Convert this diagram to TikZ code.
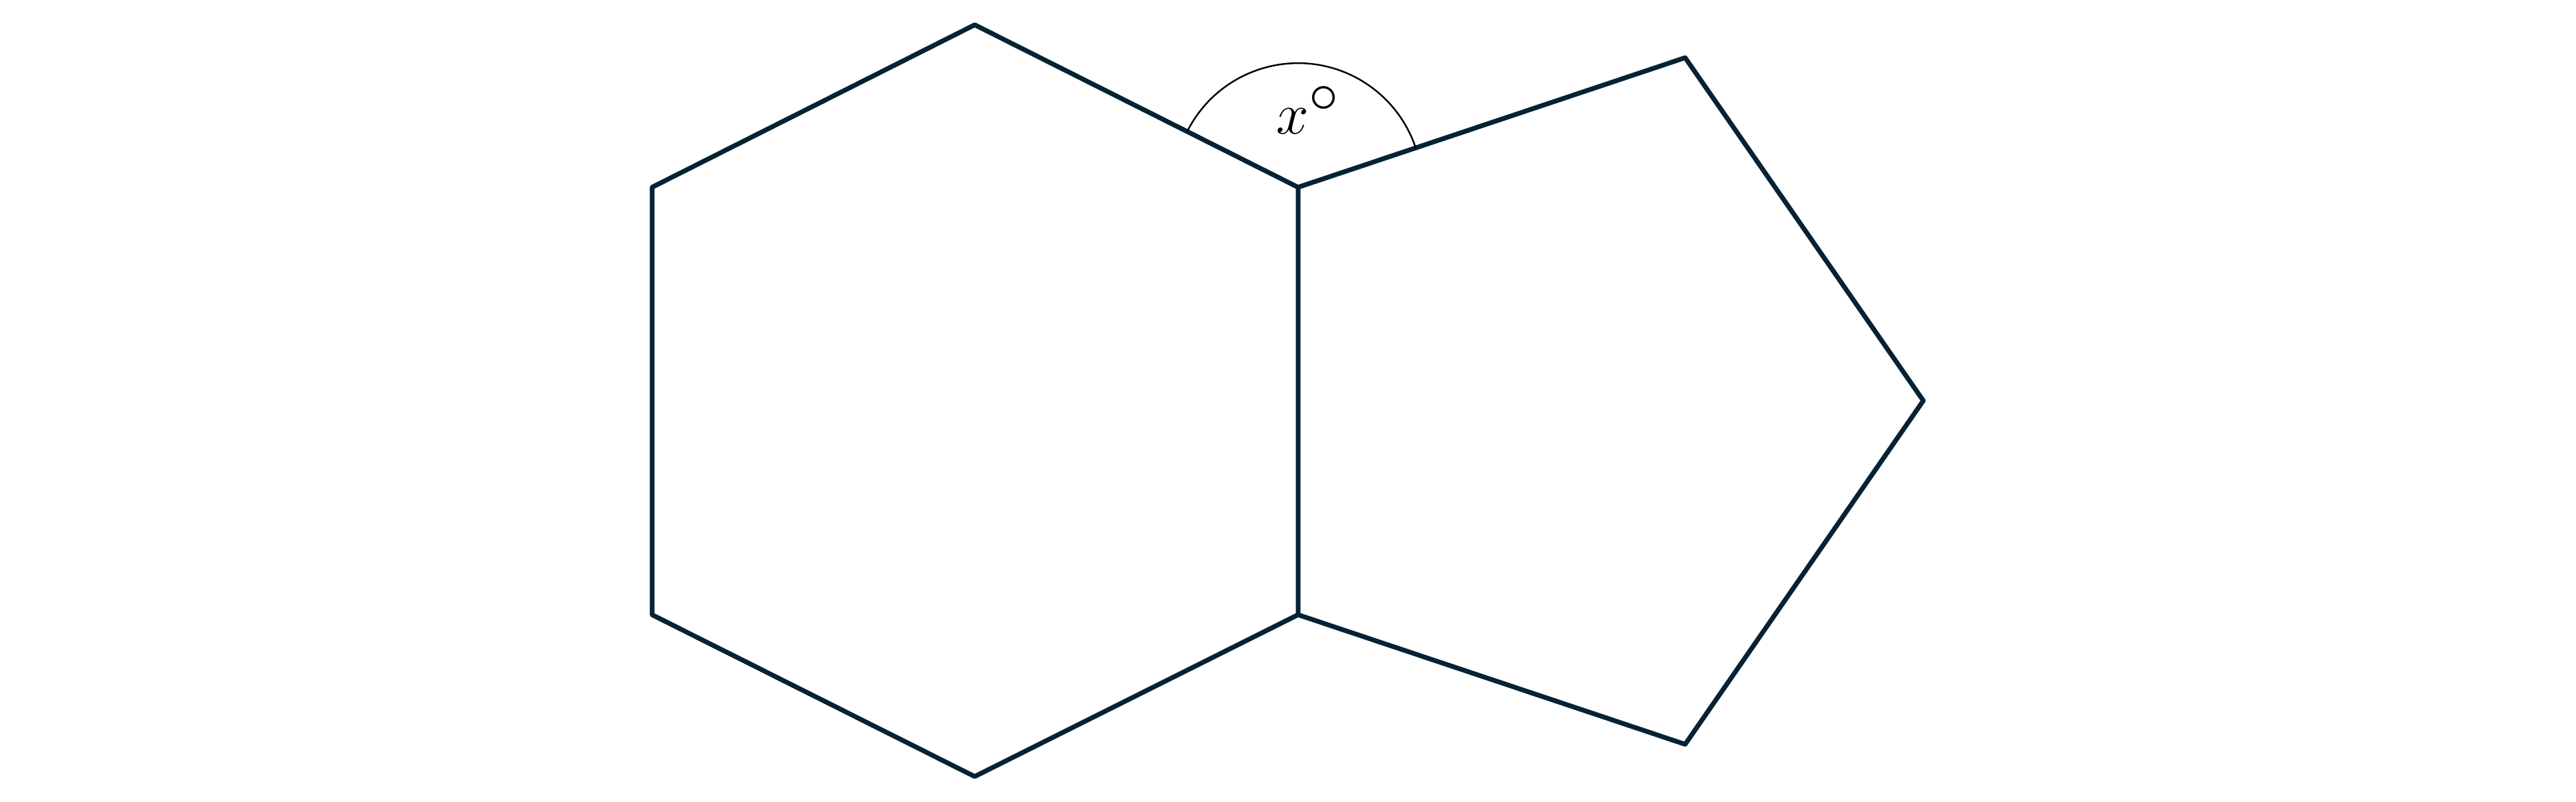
\documentclass[tikz,border=0pt]{standalone}
\usepackage{amsmath}
\usepackage{tikz}
\usetikzlibrary{calc}
\usepackage{xcolor}
\definecolor{ring_blue}{HTML}{062234}

\begin{document}
\begin{tikzpicture}[ring/.style={draw=ring_blue, line width=2pt, line join=round}, angle line/.style={draw=black, line width=0.7pt}]
	\useasboundingbox (0, 0) rectangle (38.4, 11.94);
	\coordinate (H1) at (19.35, 9.15);
	\coordinate (H2) at (14.53, 11.57);
	\coordinate (H3) at (9.72, 9.15);
	\coordinate (H4) at (9.72, 2.78);
	\coordinate (H5) at (14.53, 0.37);
	\coordinate (H6) at (19.35, 2.78);
	\coordinate (P2) at (25.12, 11.08);
	\coordinate (P3) at (28.67, 5.97);
	\coordinate (P4) at (25.12, 0.85);
	\draw[ring] (H1) -- (H2) -- (H3) -- (H4) -- (H5) -- (H6) -- cycle;
	\draw[ring] (H1) -- (P2) -- (P3) -- (P4) -- (H6);
	\draw[angle line] ($(H1)!1.85cm!(H2)$) arc[start angle=153.3, end angle=18.5, radius=1.85];
	\node (x) at (19.5, 10.3) {\fontsize{34}{40}\selectfont $x^{\circ}$};
\end{tikzpicture}
\end{document}
